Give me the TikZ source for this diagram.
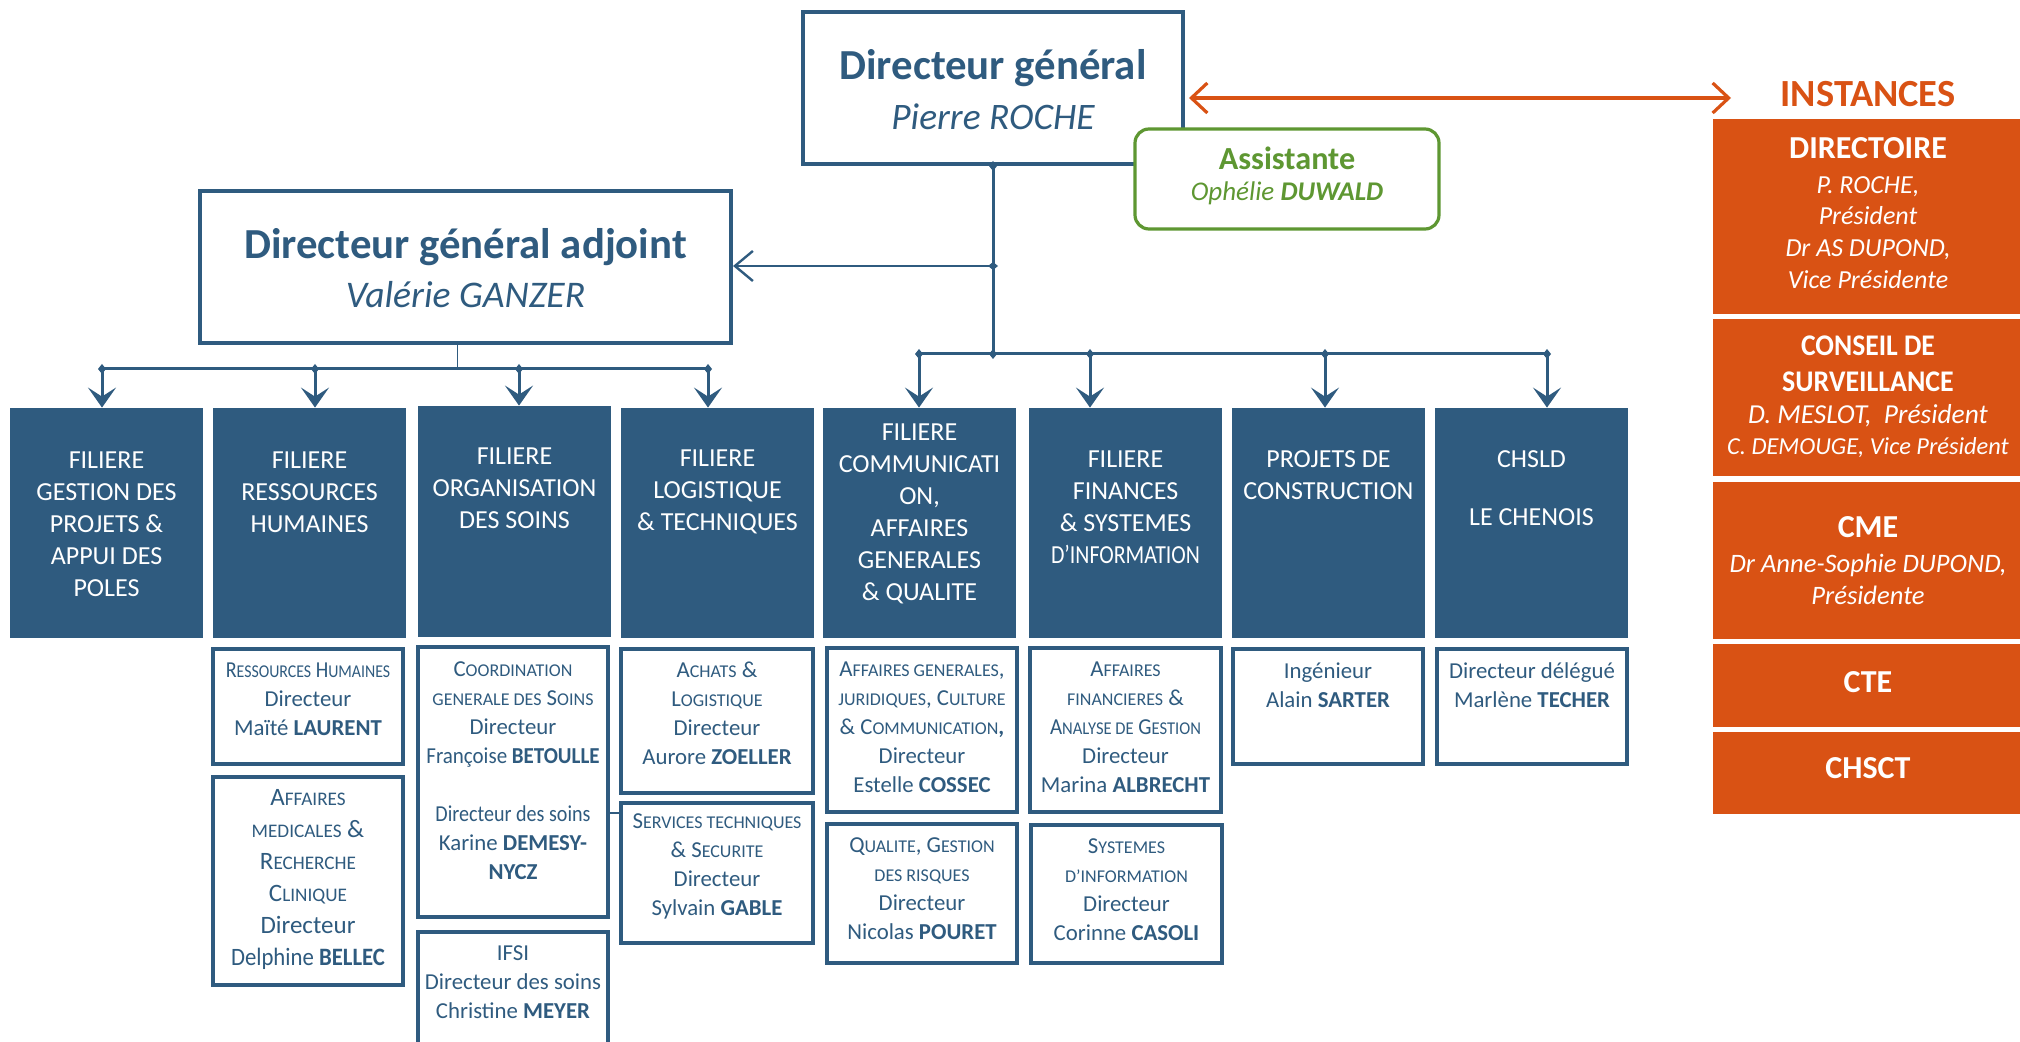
\documentclass[tikz,border=0pt]{standalone}
\usepackage{fontspec}
\setmainfont{Carlito}
\usepackage{graphicx}
\usetikzlibrary{arrows.meta}
\definecolor{dblue}{HTML}{2F5B7F}
\definecolor{orng}{HTML}{D95214}
\definecolor{grn}{HTML}{5E9732}
\newcommand\smc[1]{{\fontsize{9pt}{14.5pt}\selectfont #1}}
\newcommand\smcb[1]{{\fontsize{9.6pt}{16pt}\selectfont #1}}
\begin{document}
\begin{tikzpicture}[x=0.5pt,y=-0.5pt,
  colbox/.style={rectangle, fill=dblue, draw=none, minimum width=96.5pt, minimum height=115pt, inner sep=0},
  subbox/.style={rectangle, draw=dblue, line width=1.8pt, fill=white, inner sep=0},
  bigbox/.style={rectangle, draw=dblue, line width=2pt, fill=white, inner sep=0},
  orbox/.style={rectangle, fill=orng, draw=none, minimum width=153.5pt, inner sep=0},
  coltext/.style={text=white, font=\fontsize{13pt}{16pt}\selectfont, align=center, inner sep=0},
  subtext/.style={text=dblue, font=\fontsize{11.4pt}{14.5pt}\selectfont, align=center, inner sep=0},
  ortext/.style={text=white, align=center, inner sep=0},
  link/.style={draw=dblue, line width=1.5pt},
  drop/.style={link, {Diamond[length=5pt,width=4pt]}-{Stealth[length=10pt,width=14pt,inset=4.5pt]}, shorten <=-2.5pt},
]
\useasboundingbox (0,0) rectangle (2020,1042);
\clip (0,0) rectangle (2020,1042);

% Directeur general
\node[bigbox, minimum width=190pt, minimum height=76pt] (DG) at (993,88) {};
\node[text=dblue, font=\fontsize{21.4pt}{24pt}\selectfont\bfseries, inner sep=0] (tdg1) at (993,68) {Directeur général};
\node[text=dblue, font=\fontsize{18.7pt}{22pt}\selectfont\itshape, inner sep=0] (tdg2) at (993,117) {Pierre ROCHE};

% Assistante
\node[draw=grn, line width=1.6pt, rounded corners=7pt, fill=white, minimum width=152pt, minimum height=50pt, inner sep=0] (asst) at (1287,179) {};
\node[text=grn, font=\fontsize{16.1pt}{18pt}\selectfont\bfseries, inner sep=0] (tas1) at (1287,158) {Assistante};
\node[text=grn, font=\fontsize{13.5pt}{16pt}\selectfont\itshape, inner sep=0] (tas2) at (1287,193) {Ophélie \textbf{DUWALD}};

% DGA
\node[bigbox, minimum width=265.5pt, minimum height=76pt] (DGA) at (465.5,267) {};
\node[text=dblue, font=\fontsize{21.4pt}{24pt}\selectfont\bfseries, inner sep=0] (tdga1) at (465.5,247) {Directeur général adjoint};
\node[text=dblue, font=\fontsize{18.8pt}{22pt}\selectfont\itshape, inner sep=0] (tdga2) at (465.5,295) {Valérie GANZER};

% Instances
\node[text=orng, font=\fontsize{19.2pt}{20pt}\selectfont\bfseries, inner sep=0] (inst) at (1868,94) {INSTANCES};
\coordinate (ia) at (1731,98);
\draw[draw=orng, line width=1.6pt, {Straight Barb[length=8pt,width=15pt]}-{Straight Barb[length=8pt,width=15pt]}] ([xshift=2pt,yshift=-5pt]DG.east) -- (ia);

\node[orbox, minimum height=97.5pt] (dir) at (1866.5,216.5) {};
\node[ortext, font=\fontsize{16pt}{18pt}\selectfont\bfseries] (tdir1) at (1868,148) {DIRECTOIRE};
\node[ortext, font=\fontsize{13pt}{15.85pt}\selectfont\itshape] (tdir2) at (1868,232.5) {P. ROCHE,\\ Président\\Dr AS DUPOND,\\Vice Présidente};

\node[orbox, minimum height=78.5pt] (cs) at (1866.5,397.5) {};
\node[ortext, font=\fontsize{15pt}{18pt}\selectfont\bfseries] (tcs1) at (1868,364) {\scalebox{0.92}[1]{CONSEIL DE}\\\scalebox{0.93}[1]{SURVEILLANCE}};
\node[ortext, font=\fontsize{13.7pt}{16pt}\selectfont\itshape] (tcs2) at (1868,416) {D. MESLOT,~ Président};
\node[ortext, font=\fontsize{12.2pt}{16pt}\selectfont\itshape] (tcs3) at (1868,448) {C. DEMOUGE, Vice Président};

\node[orbox, minimum height=78.5pt] (cme) at (1866.5,560.5) {};
\node[ortext, font=\fontsize{16pt}{18pt}\selectfont\bfseries] (tcme1) at (1868,527) {CME};
\node[ortext, font=\fontsize{13.3pt}{16pt}\selectfont\itshape] (tcme2) at (1868,579) {Dr Anne-Sophie DUPOND,\\Présidente};

\node[orbox, minimum height=41.5pt] (cte) at (1866.5,685.5) {};
\node[ortext, font=\fontsize{16pt}{18pt}\selectfont\bfseries] (tcte) at (1868,682) {CTE};
\node[orbox, minimum height=41pt] (chs) at (1866.5,773) {};
\node[ortext, font=\fontsize{16pt}{18pt}\selectfont\bfseries] (tchs) at (1868,768) {CHSCT};

% columns
\node[colbox] (c1) at (106.5,523) {};
\node[colbox] (c2) at (309.5,523) {};
\node[colbox, minimum height=115.5pt] (c3) at (514.5,521.5) {};
\node[colbox] (c4) at (717.5,523) {};
\node[colbox] (c5) at (919.5,523) {};
\node[colbox] (c6) at (1125.5,523) {};
\node[colbox] (c7) at (1328.5,523) {};
\node[colbox] (c8) at (1531.5,523) {};
\node[coltext] (tc1) at (106.5,524) {FILIERE\\GESTION DES\\PROJETS \&\\APPUI DES\\POLES};
\node[coltext] (tc2) at (309.5,492) {FILIERE\\RESSOURCES\\HUMAINES};
\node[coltext] (tc3) at (514.5,488) {FILIERE\\ORGANISATION\\DES SOINS};
\node[coltext] (tc4) at (717.5,492) {FILIERE\\LOGISTIQUE\\\& TECHNIQUES};
\node[coltext] (tc5) at (919.5,513.5) {FILIERE\\COMMUNICATI\\ON,\\AFFAIRES\\GENERALES\\\& QUALITE};
\node[coltext] (tc6) at (1125.5,507.5) {FILIERE\\FINANCES\\\& SYSTEMES\\\scalebox{0.84}[1]{D’INFORMATION}};
\node[coltext] (tc7) at (1328.5,475) {PROJETS DE\\CONSTRUCTION};
\node[coltext] (tc8) at (1531.5,488) {CHSLD\\[13pt]LE CHENOIS};

% connectors
\coordinate (jr) at (993,354);
\coordinate (jd) at (993,266);
\draw[link, {Diamond[length=5pt,width=4pt]}-{Diamond[length=5pt,width=4pt]}, shorten <=-2.5pt, shorten >=-2.5pt] (DG.south) -- (jr);
\draw[link, line width=1.2pt, {Diamond[length=5pt,width=4pt]}-{Straight Barb[length=9pt,width=15pt]}, shorten <=-2.5pt] (jd) -- (jd -| DGA.east);

\coordinate (r1) at (919,354);
\coordinate (r2) at (1090,354);
\coordinate (r3) at (1325,354);
\coordinate (r4) at (1547,354);
\draw[link] (r1) -- (r4);
\draw[drop] (r1) -- (r1 |- c5.north);
\draw[drop] (r2) -- (r2 |- c6.north);
\draw[drop] (r3) -- (r3 |- c7.north);
\draw[drop] (r4) -- (r4 |- c8.north);

\coordinate (l1) at (102,369);
\coordinate (l2) at (315,369);
\coordinate (l3) at (519,369);
\coordinate (l4) at (708,369);
\coordinate (dgs) at ([xshift=-4pt]DGA.south);
\draw[draw=dblue, line width=0.8pt] (dgs) -- (dgs |- l1);
\draw[link] (l1) -- (l4);
\draw[drop] (l1) -- (l1 |- c1.north);
\draw[drop] (l2) -- (l2 |- c2.north);
\draw[drop] (l3) -- (l3 |- c3.north);
\draw[drop] (l4) -- (l4 |- c4.north);

% sub boxes
\node[subbox, minimum width=95pt, minimum height=57.5pt] (rh) at (308,706.5) {};
\node[subtext] (trh) at (308,699) {\scalebox{0.88}[1]{R\smc{ESSOURCES} H\smc{UMAINES}}\\Directeur\\Maïté \textbf{LAURENT}};
\node[subbox, minimum width=95pt, minimum height=104pt] (am) at (308,881) {};
\node[subtext, font=\fontsize{12.5pt}{16pt}\selectfont] (tam) at (308,879) {A\smcb{FFAIRES}\\\smcb{MEDICALES} \&\\R\smcb{ECHERCHE}\\C\smcb{LINIQUE}\\Directeur\\\scalebox{0.91}[1]{Delphine \textbf{BELLEC}}};

\node[subbox, minimum width=95pt, minimum height=135pt] (co) at (513,782) {};
\node[subtext] (tco) at (513,770.5) {C\smc{OORDINATION}\\\smc{GENERALE DES} S\smc{OINS}\\Directeur\\\scalebox{0.92}[1]{Françoise \textbf{BETOULLE}}\\[14.5pt]\scalebox{0.88}[1]{Directeur des soins}\\Karine \textbf{DEMESY-}\\\textbf{NYCZ}};
\node[subbox, minimum width=95pt, minimum height=59pt] (ifsi) at (513,991) {};
\node[subtext] (tifsi) at (513,982) {IFSI\\Directeur des soins\\Christine \textbf{MEYER}};

\node[subbox, minimum width=96pt, minimum height=72pt] (ach) at (717,721) {};
\node[subtext] (tach) at (717,713) {A\smc{CHATS} \&\\L\smc{OGISTIQUE}\\Directeur\\Aurore \textbf{ZOELLER}};
\node[subbox, minimum width=96pt, minimum height=70pt] (st) at (717,873) {};
\node[subtext] (tst) at (717,866.5) {S\smc{ERVICES TECHNIQUES}\\\& S\smc{ECURITE}\\Directeur\\Sylvain \textbf{GABLE}};
\coordinate (cst) at (613,813);
\draw[draw=dblue, line width=1pt] (co.east |- cst) -- (st.west |- cst);

\node[subbox, minimum width=95pt, minimum height=82pt] (ag) at (922,730) {};
\node[subtext] (tag) at (922,727.5) {A\smc{FFAIRES GENERALES},\\\smc{JURIDIQUES}, C\smc{ULTURE}\\\& C\smc{OMMUNICATION}\textbf{,}\\Directeur\\Estelle \textbf{COSSEC}};
\node[subbox, minimum width=95pt, minimum height=69.5pt] (qg) at (922,893.5) {};
\node[subtext] (tqg) at (922,889) {Q\smc{UALITE}, G\smc{ESTION}\\\smc{DES RISQUES}\\Directeur\\Nicolas \textbf{POURET}};

\node[subbox, minimum width=95.5pt, minimum height=82pt] (af) at (1125.5,730) {};
\node[subtext] (taf) at (1125.5,727.5) {A\smc{FFAIRES}\\\smc{FINANCIERES} \&\\\scalebox{0.92}[1]{A\smc{NALYSE DE} G\smc{ESTION}}\\Directeur\\Marina \textbf{ALBRECHT}};
\node[subbox, minimum width=95.5pt, minimum height=69pt] (si) at (1126.5,894) {};
\node[subtext] (tsi) at (1126.5,890) {S\smc{YSTEMES}\\\smc{D’INFORMATION}\\Directeur\\Corinne \textbf{CASOLI}};

\node[subbox, minimum width=95pt, minimum height=57.5pt] (ing) at (1328,706.5) {};
\node[subtext] (ting) at (1328,685) {Ingénieur\\Alain \textbf{SARTER}};
\node[subbox, minimum width=95pt, minimum height=57.5pt] (dd) at (1532,706.5) {};
\node[subtext] (tdd) at (1532,685) {Directeur délégué\\Marlène \textbf{TECHER}};
\end{tikzpicture}
\end{document}
